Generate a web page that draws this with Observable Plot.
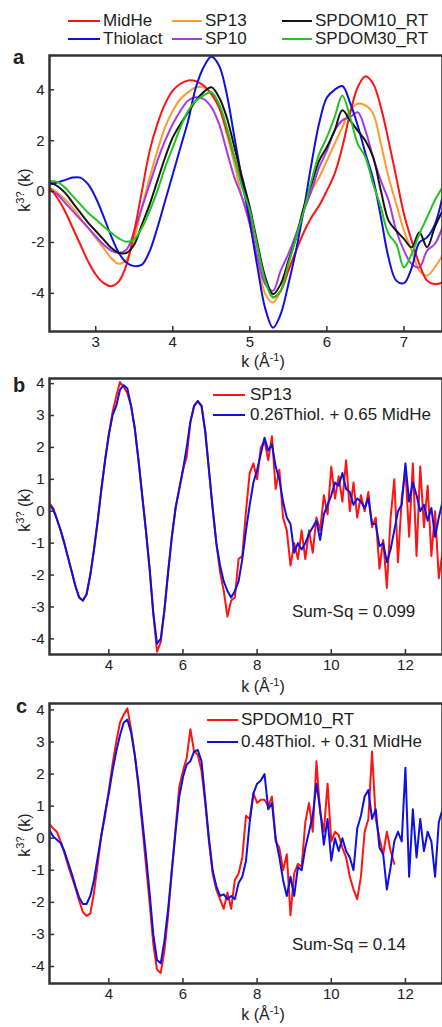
<!DOCTYPE html>
<html><head><meta charset="utf-8">
<script src="https://cdn.jsdelivr.net/npm/d3@7"></script>
<script src="https://cdn.jsdelivr.net/npm/@observablehq/plot@0.6"></script>
<style>
body{margin:0;background:#fff;font-family:"Liberation Sans",Arial,sans-serif;}
#wrap{position:relative;width:442px;height:1027px;overflow:hidden;background:#fff;}
.abs{position:absolute;white-space:nowrap;color:#222;}
.txt{font-size:17px;line-height:20px;}
.sw{position:absolute;height:2px;}
.plot{position:absolute;left:0;}
.ylab{font-size:16px;transform:translate(-50%,-50%) rotate(-90deg);}
.xlab{font-size:16px;transform:translate(-50%,-50%);}
sup{font-size:11px;line-height:0;}
.let{font-weight:bold;font-size:20px;line-height:20px;}
</style></head><body><div id="wrap"></div>
<script>
// ---------- Panel a data (k grid 2.4 .. 7.5) ----------
const kA = [2.4,2.5,2.6,2.7,2.8,2.9,
  3.0,3.1,3.2,3.3,3.4,3.5,3.6,3.7,3.8,3.9,
  4.0,4.1,4.2,4.3,4.4,4.5,4.6,4.7,4.8,4.9,
  5.0,5.1,5.2,5.3,5.4,5.5,5.6,5.7,5.8,5.9,
  6.0,6.1,6.2,6.3,6.4,6.5,6.6,6.7,6.8,6.9,
  7.0,7.1,7.2,7.3,7.4,7.5];
const aMidHe = [0.16,-0.24,-0.76,-1.42,-2.08,-2.74,
  -3.26,-3.59,-3.72,-3.53,-2.87,-1.55,0.03,1.6,2.66,3.45,
  3.97,4.24,4.37,4.34,4.17,3.84,3.32,2.39,1.34,0.3,
  -0.9,-2.2,-3.4,-4.15,-3.9,-3.11,-2.32,-1.6,-1.01,-0.55,
  0.04,0.7,1.75,3.06,4.1,4.53,4.24,3.32,2.0,0.56,
  -0.88,-1.93,-2.85,-3.5,-3.64,-3.57];
const aThiolact = [0.29,0.36,0.45,0.55,0.55,0.29,
  -0.24,-0.96,-1.75,-2.41,-2.8,-2.93,-2.87,-2.34,-1.42,-0.37,
  0.68,1.74,2.79,4.1,4.89,5.3,4.96,3.84,2.13,0.42,
  -1.2,-3.0,-4.6,-5.35,-4.82,-3.64,-2.3,-0.7,1.1,2.7,
  3.7,4.0,4.15,3.5,2.6,1.5,0.5,-1.0,-2.6,-3.5,
  -3.6,-3.0,-2.0,-1.8,-1.3,-0.2];
const aSP13 = [0.16,-0.04,-0.3,-0.63,-1.03,-1.42,
  -1.82,-2.21,-2.61,-2.84,-2.67,-1.82,-0.63,0.55,1.6,2.53,
  3.18,3.64,3.91,4.1,4.1,3.84,3.32,2.26,1.08,-0.24,
  -1.3,-2.72,-4.03,-4.36,-3.9,-2.85,-1.8,-0.75,0.04,0.56,
  1.22,1.88,2.53,3.19,3.45,3.39,3.06,1.88,0.56,-0.49,
  -1.54,-2.32,-3.11,-3.3,-2.98,-2.5];
const aSP10 = [0.09,-0.1,-0.43,-0.76,-1.09,-1.42,
  -1.75,-2.08,-2.32,-2.41,-2.28,-1.55,-0.63,0.29,1.21,2.0,
  2.66,3.18,3.58,3.71,3.64,3.32,2.66,1.6,0.55,-0.24,
  -1.27,-2.59,-3.64,-3.9,-3.11,-2.45,-1.67,-0.75,0.04,0.96,
  1.61,2.4,2.8,2.93,3.12,2.4,1.35,0.43,-0.35,-1.54,
  -2.32,-2.85,-2.98,-2.32,-2.06,-1.4];
const aSPDOM10 = [0.36,0.22,-0.04,-0.43,-0.83,-1.22,
  -1.55,-1.88,-2.21,-2.41,-2.41,-2.08,-1.29,-0.5,0.42,1.34,
  2.13,2.66,3.12,3.58,3.91,4.1,3.71,2.92,1.74,0.55,
  -0.62,-2.06,-3.37,-4.03,-3.64,-2.72,-1.8,-0.62,0.3,1.22,
  1.75,2.4,3.2,2.8,2.4,2.0,1.35,0.04,-1.14,-1.54,
  -1.86,-2.19,-1.6,-2.19,-1.4,-0.75];
const aSPDOM30 = [0.42,0.38,0.16,-0.17,-0.5,-0.83,
  -1.09,-1.36,-1.62,-1.84,-1.97,-1.88,-1.42,-0.76,0.03,0.95,
  1.74,2.53,3.18,3.58,3.78,3.91,3.45,2.53,1.34,0.16,
  -0.75,-2.19,-3.5,-4.16,-3.9,-2.85,-1.8,-0.75,0.43,1.48,
  2.14,2.93,3.78,2.93,1.88,1.35,0.3,-0.62,-1.67,-2.06,
  -2.98,-2.45,-1.67,-1.01,-0.35,0.17];

// ---------- Panels b, c data (k grid 2.4 .. 13.0) ----------
const kB = [2.4,2.5,2.6,2.7,2.8,2.9,
  3.0,3.1,3.2,3.3,3.4,3.5,3.6,3.7,3.8,3.9,
  4.0,4.1,4.2,4.3,4.4,4.5,4.6,4.7,4.8,4.9,
  5.0,5.1,5.2,5.3,5.4,5.5,5.6,5.7,5.8,5.9,
  6.0,6.1,6.2,6.3,6.4,6.5,6.6,6.7,6.8,6.9,
  7.0,7.1,7.2,7.3,7.4,7.5,7.6,7.7,7.8,7.9,
  8.0,8.1,8.2,8.3,8.4,8.5,8.6,8.7,8.8,8.9,
  9.0,9.1,9.2,9.3,9.4,9.5,9.6,9.7,9.8,9.9,
  10.0,10.1,10.2,10.3,10.4,10.5,10.6,10.7,10.8,10.9,
  11.0,11.1,11.2,11.3,11.4,11.5,11.6,11.7,11.8,11.9,
  12.0,12.1,12.2,12.3,12.4,12.5,12.6,12.7,12.8,12.9,
  13.0];
const bSP13 = [0.25,0.1,-0.25,-0.6,-1.0,-1.45,
  -1.9,-2.35,-2.7,-2.8,-2.6,-2.0,-1.2,-0.3,0.7,1.6,
  2.4,3.1,3.6,4.05,3.9,3.7,3.3,2.6,1.6,0.5,
  -0.6,-1.8,-3.2,-4.4,-4.1,-3.1,-1.9,-0.8,0.1,0.7,
  1.3,1.7,2.8,3.3,3.45,3.3,2.5,1.3,0.1,-1.0,
  -1.9,-2.5,-3.3,-2.8,-2.7,-1.5,-1.4,0.0,1.2,1.5,
  1.0,2.0,2.2,1.6,2.35,0.7,1.3,-0.2,-0.6,-1.7,
  -1.0,-1.5,-0.6,-1.5,-0.6,-1.3,-0.2,-0.6,0.5,-0.1,
  1.4,0.4,1.1,0.3,1.6,0.0,0.9,-0.2,0.5,0.0,
  0.6,-0.5,-0.2,-1.8,-0.9,-2.4,-0.2,1.0,-1.6,0.4,
  1.3,-0.8,1.5,-1.4,1.4,-0.5,0.8,-1.4,0.0,-2.1,
  -1.3];
const bFit = [0.2,0.05,-0.25,-0.6,-1.0,-1.45,
  -1.9,-2.35,-2.7,-2.8,-2.6,-2.0,-1.2,-0.3,0.7,1.6,
  2.4,3.0,3.3,3.8,3.95,3.85,3.3,2.6,1.6,0.5,
  -0.6,-1.8,-3.2,-4.15,-4.0,-3.1,-1.9,-0.8,0.1,0.7,
  1.3,2.0,2.8,3.3,3.45,3.3,2.5,1.3,0.1,-1.0,
  -1.7,-2.2,-2.5,-2.7,-2.5,-2.2,-1.5,-0.6,0.2,0.9,
  1.3,1.8,2.3,1.9,2.1,1.4,1.0,0.3,-0.2,-0.4,
  -1.3,-1.0,-1.2,-1.0,-0.7,-0.5,-0.3,-0.9,-0.1,0.2,
  0.5,0.9,0.8,1.2,0.7,0.6,0.2,0.4,0.3,0.1,
  0.4,-0.4,-0.4,-1.1,-1.0,-1.6,-1.2,-0.6,0.0,0.2,
  1.5,0.3,0.9,0.5,0.0,0.2,-0.3,0.1,-0.8,-0.2,
  0.3];
const cSPDOM10 = [0.45,0.3,0.2,-0.1,-0.45,-0.85,
  -1.2,-1.55,-1.95,-2.3,-2.42,-2.35,-1.7,-0.8,0.1,0.7,
  1.5,2.3,3.0,3.6,3.85,4.05,3.4,2.6,1.6,0.4,
  -0.8,-2.0,-3.3,-4.1,-4.2,-3.5,-2.4,-1.0,0.3,1.6,
  2.1,2.5,3.4,2.7,2.6,2.1,1.1,-0.1,-1.1,-1.6,
  -1.9,-2.2,-1.7,-2.2,-1.3,-1.1,-0.6,0.7,0.6,1.4,
  1.1,1.2,1.2,1.0,1.3,-0.1,-0.3,-1.0,-0.5,-2.4,
  -1.1,-0.8,-0.9,0.5,1.1,0.2,2.4,0.8,0.2,1.7,
  -0.1,0.2,0.1,-0.3,-0.6,-1.2,-1.6,-1.9,-1.2,0.2,
  0.6,2.7,0.6,0.0,-0.5,0.2,-0.4,-0.8,null,null,
  null,null,null,null,null,null,null,null,null,null,
  null];
const cFit = [0.25,0.05,-0.05,-0.15,-0.4,-0.75,
  -1.1,-1.5,-1.85,-2.05,-2.05,-1.8,-1.3,-0.6,0.1,0.8,
  1.4,2.1,2.7,3.2,3.6,3.7,3.3,2.6,1.7,0.6,
  -0.5,-1.7,-3.0,-3.8,-3.9,-3.2,-2.2,-1.0,0.2,1.3,
  1.9,2.3,2.4,2.7,2.75,2.4,1.2,0.0,-1.0,-1.5,
  -1.8,-1.75,-1.9,-1.8,-1.9,-1.4,-1.2,-0.7,0.5,1.4,
  1.7,1.8,2.0,0.9,1.1,0.0,-0.6,-1.3,-1.8,-1.2,
  -1.8,-0.9,-1.0,-0.3,0.2,0.7,1.7,0.9,-0.2,0.6,
  -0.7,0.0,-0.4,0.0,-0.4,-0.6,-1.0,0.3,0.7,1.3,
  1.5,0.6,0.9,-0.3,-0.5,-1.6,-0.9,-0.1,0.2,-0.1,
  2.2,-1.2,0.9,-0.6,0.6,-0.4,0.2,-0.1,-1.2,0.5,
  0.9];

// ---------- ticks & labels ----------
const aXTicks = [3,4,5,6,7];
const aYTicks = [-4,-2,0,2,4];
const bcXTicks = [4,6,8,10,12];
const bcYTicks = [-4,-3,-2,-1,0,1,2,3,4];
const aNames = ["MidHe","Thiolact","SP13","SP10","SPDOM10_RT","SPDOM30_RT"];
const bNames = ["SP13","0.26Thiol. + 0.65 MidHe"];
const cNames = ["SPDOM10_RT","0.48Thiol. + 0.31 MidHe"];
const bNote = "Sum-Sq = 0.099";
const cNote = "Sum-Sq = 0.14";

const C = {red:"#ff1414", blue:"#1010e0", orange:"#ff9a2e", purple:"#a43be6", black:"#141414", green:"#22c322"};

const wrap = document.getElementById("wrap");
const toRows = (ks, vs) => ks.map((k,i)=>({k, v: vs[i]}));

function panel({top, height, mt, mb, xDomain, yDomain, xTicks, yTicks, series, curve}) {
  const W = 442, ml = 49, mr = 0;
  const innerH = height - mt - mb, innerW = W - ml - mr;
  const marks = [
    ...series.map(s => Plot.line(toRows(s.k, s.v), {x:"k", y:"v", stroke:s.color, strokeWidth:2, curve, clip:true})),
    Plot.ruleX(xTicks, {x:d=>d, insetTop: innerH-5, stroke:"#333", strokeWidth:1.5}),
    Plot.ruleY(yTicks, {y:d=>d, insetRight: innerW-5, stroke:"#333", strokeWidth:1.5}),
    Plot.axisX(xTicks, {tickSize:0, tickPadding:5, label:null, tickFormat:d=>String(d)}),
    Plot.axisY(yTicks, {tickSize:0, tickPadding:5, label:null, tickFormat:d=>String(d)}),
    Plot.frame({stroke:"#333", strokeWidth:2.5})
  ];
  const svg = Plot.plot({width:W, height, marginTop:mt, marginBottom:mb, marginLeft:ml, marginRight:mr,
    x:{domain:xDomain}, y:{domain:yDomain}, marks,
    style:{fontFamily:'"Liberation Sans", Arial, sans-serif', fontSize:"15px", color:"#222", background:"transparent"}});
  svg.classList.add("plot");
  svg.style.top = top + "px";
  wrap.appendChild(svg);
}

function swatch(x1, x2, y, color) {
  const d = document.createElement("div");
  d.className = "sw";
  d.style.left = x1+"px"; d.style.top = (y-1)+"px"; d.style.width = (x2-x1)+"px"; d.style.background = color;
  wrap.appendChild(d);
}
function text(x, y, html, cls) {
  const d = document.createElement("div");
  d.className = "abs " + (cls||"txt");
  d.style.left = x+"px"; d.style.top = (y-10)+"px";
  d.innerHTML = html;
  wrap.appendChild(d);
  return d;
}
function centered(x, y, html, cls) {
  const d = document.createElement("div");
  d.className = "abs " + cls;
  d.style.left = x+"px"; d.style.top = y+"px";
  d.innerHTML = html;
  wrap.appendChild(d);
}

// Panel a
panel({top:0, height:365, mt:55, mb:34, xDomain:[2.4,7.5], yDomain:[-5.5,5.35], xTicks:aXTicks, yTicks:aYTicks, curve:"catmull-rom",
  series:[
    {k:kA, v:aSP13, color:C.orange},
    {k:kA, v:aSP10, color:C.purple},
    {k:kA, v:aMidHe, color:C.red},
    {k:kA, v:aThiolact, color:C.blue},
    {k:kA, v:aSPDOM10, color:C.black},
    {k:kA, v:aSPDOM30, color:C.green}
  ]});
// Panel b
panel({top:365, height:335, mt:13, mb:46, xDomain:[2.4,13], yDomain:[-4.49,4.16], xTicks:bcXTicks, yTicks:bcYTicks, curve:"linear",
  series:[{k:kB, v:bSP13, color:C.red},{k:kB, v:bFit, color:C.blue}]});
// Panel c
panel({top:690, height:337, mt:13, mb:44, xDomain:[2.4,13], yDomain:[-4.53,4.2], xTicks:bcXTicks, yTicks:bcYTicks, curve:"linear",
  series:[{k:kB, v:cSPDOM10, color:C.red},{k:kB, v:cFit, color:C.blue}]});

// Top legend
const legA = [
  {x1:68,x2:100,tx:103,y:21,name:aNames[0],color:C.red},
  {x1:68,x2:100,tx:103,y:39,name:aNames[1],color:C.blue},
  {x1:172,x2:202,tx:205,y:21,name:aNames[2],color:C.orange},
  {x1:172,x2:202,tx:205,y:39,name:aNames[3],color:C.purple},
  {x1:282,x2:312,tx:315,y:21,name:aNames[4],color:C.black},
  {x1:282,x2:312,tx:315,y:39,name:aNames[5],color:C.green}
];
legA.forEach(l => { swatch(l.x1,l.x2,l.y,l.color); text(l.tx,l.y,l.name); });

// b legend & note
swatch(213,245,395,C.red); text(250,395,bNames[0]);
swatch(213,245,415,C.blue); text(250,415,bNames[1]);
text(292,612,bNote);
// c legend & note
swatch(207,238,720,C.red); text(241,720,cNames[0]);
swatch(207,238,742,C.blue); text(241,742,cNames[1]);
text(292,945,cNote);

// axis labels
centered(25,190,"k<sup>3?</sup> (k)","ylab");
centered(25,510,"k<sup>3?</sup> (k)","ylab");
centered(25,835,"k<sup>3?</sup> (k)","ylab");
centered(263,362,"k (Å<sup>-1</sup>)","xlab");
centered(263,687,"k (Å<sup>-1</sup>)","xlab");
centered(263,1015,"k (Å<sup>-1</sup>)","xlab");

// panel letters
text(13,57,"a","let");
text(13,385,"b","let");
text(16,706,"c","let");
</script></body></html>
